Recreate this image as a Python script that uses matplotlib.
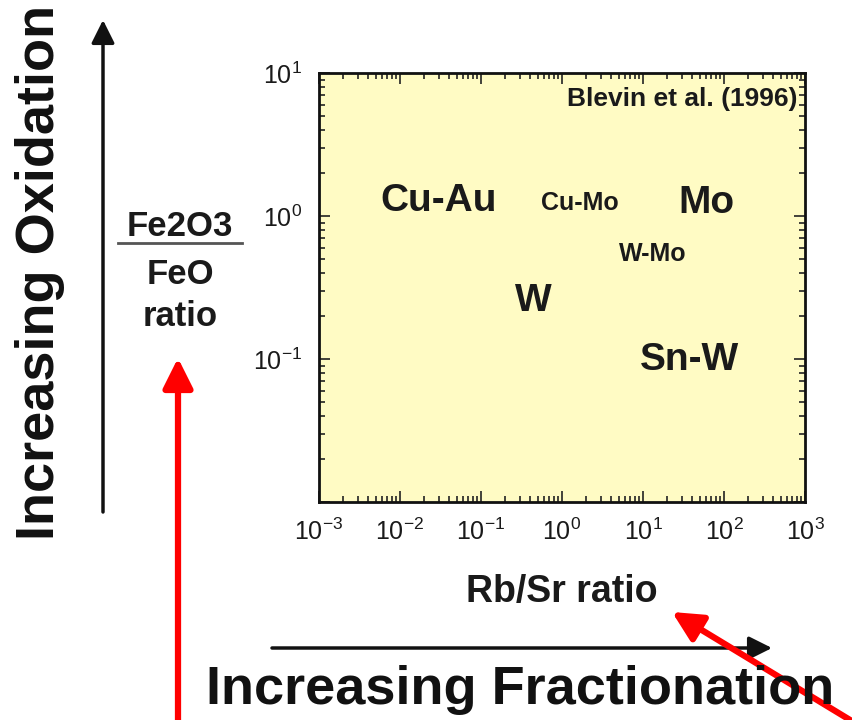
# Rb/Sr versus Fe2O3/FeO discrimination of granite-related ore deposits.
# Log-log field with deposit labels, plus the "fractionation" and "oxidation"
# trend arrows drawn around the axes.

import matplotlib
matplotlib.use("Agg")
import matplotlib.pyplot as plt
from matplotlib.ticker import FixedLocator, FixedFormatter, LogLocator, NullFormatter

plt.rcParams["font.family"] = ["Liberation Sans", "DejaVu Sans"]
plt.rcParams["mathtext.fontset"] = "custom"
plt.rcParams["mathtext.rm"] = "Liberation Sans"
plt.rcParams["mathtext.default"] = "regular"

# deposit fields (Rb/Sr, Fe2O3/FeO) and label size
DEPOSITS = ["Cu-Au", "Cu-Mo", "Mo", "W-Mo", "W", "Sn-W"]
RB_SR = [0.030, 1.68, 61.0, 13.3, 0.44, 37.6]
FE_RATIO = [1.28, 1.24, 1.24, 0.54, 0.254, 0.099]
LABEL_SIZE = [28, 18, 28, 18, 28, 28]

X_TICKS = [1e-3, 1e-2, 1e-1, 1e0, 1e1, 1e2, 1e3]
X_TICK_LABELS = ["$10^{-3}$", "$10^{-2}$", "$10^{-1}$", "$10^{0}$",
                 "$10^{1}$", "$10^{2}$", "$10^{3}$"]
Y_TICKS = [1e-2, 1e-1, 1e0, 1e1]
Y_TICK_LABELS = ["", "$10^{-1}$", "$10^{0}$", "$10^{1}$"]

W, H = 852, 720
fig = plt.figure(figsize=(W / 100, H / 100), dpi=100)


def fig_px(x, y):
    # pixel position measured from the top-left corner -> figure fraction
    return x / W, 1 - y / H


left, top, right, bottom = 319, 73, 805, 502
ax = fig.add_axes([left / W, 1 - bottom / H, (right - left) / W, (bottom - top) / H])
ax.set_facecolor("#fffbc4")
ax.set_xscale("log")
ax.set_yscale("log")
ax.set_xlim(1e-3, 1e3)
ax.set_ylim(1e-2, 1e1)

ax.xaxis.set_major_locator(FixedLocator(X_TICKS))
ax.xaxis.set_major_formatter(FixedFormatter(X_TICK_LABELS))
ax.yaxis.set_major_locator(FixedLocator(Y_TICKS))
ax.yaxis.set_major_formatter(FixedFormatter(Y_TICK_LABELS))
for axis in (ax.xaxis, ax.yaxis):
    axis.set_minor_locator(LogLocator(base=10, subs=range(2, 10), numticks=20))
    axis.set_minor_formatter(NullFormatter())
ax.tick_params(which="both", direction="in", top=True, right=True,
               labelsize=18, width=1.2, color="#222222", labelcolor="#1a1a1a")
ax.tick_params(which="major", length=8, pad=12)
ax.tick_params(which="minor", length=4)
for s in ax.spines.values():
    s.set_linewidth(2)
    s.set_color("#111111")

for name, x, y, size in zip(DEPOSITS, RB_SR, FE_RATIO, LABEL_SIZE):
    ax.text(x, y, name, fontsize=size, fontweight="bold", color="#1a1a1a",
            ha="center", va="center")

ax.text(0.985, 0.94, "Blevin et al. (1996)", transform=ax.transAxes,
        fontsize=19, fontweight="bold", ha="right", va="center", color="#1a1a1a")

# axis captions
fig.text(*fig_px(562, 592), "Rb/Sr ratio", fontsize=27, fontweight="bold",
         ha="center", va="center", color="#1a1a1a")
fig.text(*fig_px(180, 226), "Fe2O3", fontsize=25, fontweight="bold",
         ha="center", va="center", color="#1a1a1a")
fig.add_artist(plt.Line2D([118 / W, 242 / W], [1 - 243 / H] * 2,
                          color="#555555", lw=2))
fig.text(*fig_px(180, 274), "FeO", fontsize=25, fontweight="bold",
         ha="center", va="center", color="#1a1a1a")
fig.text(*fig_px(180, 316), "ratio", fontsize=25, fontweight="bold",
         ha="center", va="center", color="#1a1a1a")

fig.text(*fig_px(40, 272), "Increasing Oxidation", fontsize=39, fontweight="bold",
         rotation=90, ha="center", va="center", color="#111111")
fig.text(*fig_px(520, 690), "Increasing Fractionation", fontsize=39,
         fontweight="bold", ha="center", va="center", color="#111111")


def arrow(start, end, color, lw, head):
    fig.add_artist(matplotlib.patches.FancyArrowPatch(
        fig_px(*start), fig_px(*end), transform=fig.transFigure,
        arrowstyle=f"-|>,head_length={head[0]},head_width={head[1]}",
        color=color, lw=lw, mutation_scale=1, shrinkA=0, shrinkB=0))


# trend arrows
arrow((103, 512), (103, 20), "#111111", 2.5, (14, 7))
arrow((272, 648), (772, 648), "#111111", 2.5, (14, 7))
arrow((178, 725), (178, 358), "#ff0000", 4.5, (18, 9))
arrow((860, 726), (672, 612), "#ff0000", 4.5, (18, 9))

fig.savefig("out.png", dpi=100)
